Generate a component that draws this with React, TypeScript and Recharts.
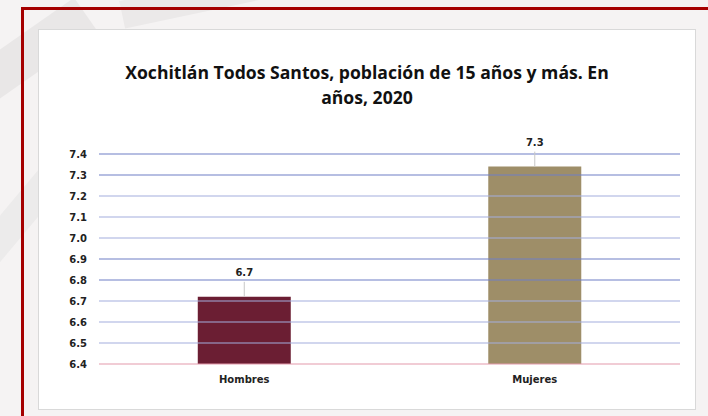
import { BarChart, Bar, XAxis, YAxis, ReferenceLine, LabelList, Cell } from "recharts";

const categories = ["Hombres", "Mujeres"];
const values = [6.72, 7.34];
const barColors = ["#6b1e33", "#9e8e68"];
const yTicks = [6.4, 6.5, 6.6, 6.7, 6.8, 6.9, 7.0, 7.1, 7.2, 7.3, 7.4];
const darkGrid = [7.4, 7.3, 6.9, 6.8];

const data = categories.map((name, i) => ({ name, value: values[i] }));

const labelFont = "'DejaVu Sans', Verdana, sans-serif";

function LeaderLabel(props: any) {
  const { x, y, width, value } = props;
  const cx = x + width / 2;
  return (
    <g>
      <line x1={cx} x2={cx} y1={y - 15} y2={y} stroke="#c8c8c8" strokeWidth={1} />
      <text
        x={cx}
        y={y - 21}
        textAnchor="middle"
        fontFamily={labelFont}
        fontWeight="bold"
        fontSize={10}
        fill="#222"
      >
        {Number(value).toFixed(1)}
      </text>
    </g>
  );
}

export default function App() {
  return (
    <div
      style={{
        position: "absolute",
        left: 0,
        top: 0,
        width: 708,
        height: 416,
        overflow: "hidden",
        background: "#f5f3f3",
      }}
    >
      {/* faint watermark stripes */}
      <div style={{ position: "absolute", left: -60, top: 40, width: 160, height: 40, background: "#e9e7e7", transform: "rotate(-35deg)" }} />
      <div style={{ position: "absolute", left: 120, top: -20, width: 200, height: 28, background: "#ebe9e9", transform: "rotate(-12deg)" }} />
      <div style={{ position: "absolute", left: -40, top: 200, width: 120, height: 30, background: "#ecebeb", transform: "rotate(-50deg)" }} />

      {/* red frame */}
      <div
        style={{
          position: "absolute",
          left: 21,
          top: 7,
          width: 700,
          height: 420,
          borderLeft: "3px solid #a50000",
          borderTop: "3px solid #a50000",
        }}
      />

      {/* chart box */}
      <div
        style={{
          position: "absolute",
          left: 38,
          top: 29,
          width: 656,
          height: 379,
          border: "1px solid #d9d9d9",
          background: "#fff",
        }}
      >
        <div
          style={{
            position: "absolute",
            left: 0,
            top: 30,
            width: 656,
            textAlign: "center",
            fontFamily: "'Open Sans', sans-serif",
            fontWeight: 700,
            fontSize: 17.6,
            lineHeight: "25px",
            color: "#111",
          }}
        >
          Xochitlán Todos Santos, población de 15 años y más. En
          <br />
          años, 2020
        </div>
        <BarChart
          width={656}
          height={379}
          data={data}
          margin={{ top: 124, right: 15, left: 0, bottom: 14 }}
          barCategoryGap="34%"
        >
          {yTicks.map((t) =>
            t === 6.4 ? null : (
              <ReferenceLine
                key={t}
                y={t}
                stroke={darkGrid.includes(t) ? "#6f7fc6" : "#a3aede"}
                strokeWidth={1.2}
              />
            )
          )}
          <XAxis
            dataKey="name"
            axisLine={{ stroke: "#e39aac", strokeWidth: 1.2 }}
            tickLine={false}
            tickMargin={6}
            height={31}
            tick={{ fontFamily: labelFont, fontWeight: "bold", fontSize: 10, fill: "#222" }}
          />
          <YAxis
            domain={[6.4, 7.4]}
            ticks={yTicks}
            interval={0}
            width={60}
            axisLine={false}
            tickLine={false}
            tickMargin={6}
            tickFormatter={(v: number) => v.toFixed(1)}
            tick={{ fontFamily: labelFont, fontWeight: "bold", fontSize: 10, fill: "#222" }}
          />
          <Bar dataKey="value" isAnimationActive={false}>
            {data.map((d, i) => (
              <Cell key={d.name} fill={barColors[i]} />
            ))}
            <LabelList dataKey="value" content={LeaderLabel} />
          </Bar>
        </BarChart>
      </div>
    </div>
  );
}
